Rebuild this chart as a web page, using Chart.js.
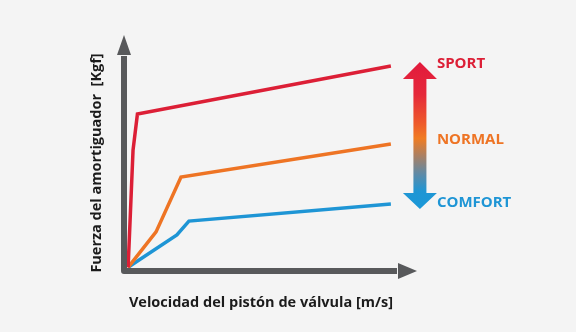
<!DOCTYPE html>
<html>
<head>
<meta charset="utf-8">
<script src="https://cdn.jsdelivr.net/npm/chart.js@4/dist/chart.umd.min.js"></script>
<style>
  html, body { margin: 0; padding: 0; background: #f4f4f4; }
  #wrap { width: 576px; height: 332px; }
</style>
</head>
<body>
<div id="wrap"><canvas id="c" width="576" height="332"></canvas></div>
<script>
// ---- data (notional units: velocity 0..10, force 0..10) ----
const seriesNames = ['SPORT', 'NORMAL', 'COMFORT'];
const sportX   = [0.15, 0.33, 0.49, 9.74];
const sportY   = [0.17, 5.60, 7.27, 9.49];
const normalX  = [0.15, 1.17, 2.08, 9.74];
const normalY  = [0.17, 1.81, 4.35, 5.88];
const comfortX = [0.15, 1.93, 2.37, 9.74];
const comfortY = [0.17, 1.67, 2.31, 3.10];
const xTitle = 'Velocidad del pistón de válvula [m/s]';
const yTitle = 'Fuerza del amortiguador  [Kgf]';

const colors = { SPORT: '#dc1f36', NORMAL: '#ee7424', COMFORT: '#1e95d5' };
const axisColor = '#58595b';
const titleFont = { family: "'Open Sans'", weight: 'bold', size: 14.5, lineHeight: 1.2 };

const toPts = (xs, ys) => xs.map((x, i) => ({ x: x, y: ys[i] }));

// annotation layout (in data units of the chart's scales)
const sideArrow = { x: 10.80, top: 9.68, headTop: 8.89, headBottom: 3.61, bottom: 2.87 };
const labelAnchors = { x: 11.42, SPORT: 9.58, NORMAL: 6.06, COMFORT: 3.17 };

const decor = {
  id: 'decor',
  beforeDraw(chart) {
    const ctx = chart.ctx;
    ctx.save();
    ctx.fillStyle = '#f4f4f4';
    ctx.fillRect(0, 0, chart.width, chart.height);
    ctx.restore();
  },
  afterDatasetsDraw(chart) {
    const ctx = chart.ctx;
    const xs = chart.scales.x, ys = chart.scales.y;
    const ox = xs.getPixelForValue(0), oy = ys.getPixelForValue(0);
    const xEnd = xs.getPixelForValue(10), yEnd = ys.getPixelForValue(10);
    ctx.save();
    // axes
    ctx.strokeStyle = axisColor;
    ctx.lineWidth = 6;
    ctx.lineJoin = 'round';
    ctx.beginPath();
    ctx.moveTo(ox, yEnd + 1);
    ctx.lineTo(ox, oy);
    ctx.lineTo(xEnd - 1, oy);
    ctx.stroke();
    ctx.fillStyle = axisColor;
    // y arrow head
    ctx.beginPath();
    ctx.moveTo(ox, yEnd - 20);
    ctx.lineTo(ox + 7, yEnd);
    ctx.lineTo(ox - 7, yEnd);
    ctx.closePath();
    ctx.fill();
    // x arrow head
    ctx.beginPath();
    ctx.moveTo(xEnd + 19, oy);
    ctx.lineTo(xEnd, oy - 8);
    ctx.lineTo(xEnd, oy + 8);
    ctx.closePath();
    ctx.fill();

    // side gradient double arrow
    const ax = xs.getPixelForValue(sideArrow.x);
    const t = ys.getPixelForValue(sideArrow.top);
    const ht = ys.getPixelForValue(sideArrow.headTop);
    const hb = ys.getPixelForValue(sideArrow.headBottom);
    const b = ys.getPixelForValue(sideArrow.bottom);
    const g = ctx.createLinearGradient(0, t, 0, b);
    g.addColorStop(0, '#e21a3c');
    g.addColorStop(0.22, '#e5283a');
    g.addColorStop(0.42, '#ee5a2a');
    g.addColorStop(0.52, '#f07c22');
    g.addColorStop(0.64, '#a98064');
    g.addColorStop(0.76, '#5f8aa6');
    g.addColorStop(0.88, '#1f96d4');
    g.addColorStop(1, '#1a98d8');
    ctx.fillStyle = g;
    const hw = 17, sw = 6.5;
    ctx.beginPath();
    ctx.moveTo(ax, t);
    ctx.lineTo(ax + hw, ht);
    ctx.lineTo(ax + sw, ht);
    ctx.lineTo(ax + sw, hb);
    ctx.lineTo(ax + hw, hb);
    ctx.lineTo(ax, b);
    ctx.lineTo(ax - hw, hb);
    ctx.lineTo(ax - sw, hb);
    ctx.lineTo(ax - sw, ht);
    ctx.lineTo(ax - hw, ht);
    ctx.closePath();
    ctx.fill();

    // labels
    ctx.font = "bold 15px 'Open Sans'";
    ctx.textBaseline = 'middle';
    ctx.textAlign = 'left';
    const lx = xs.getPixelForValue(labelAnchors.x);
    seriesNames.forEach(n => {
      ctx.fillStyle = colors[n];
      ctx.fillText(n, lx, ys.getPixelForValue(labelAnchors[n]));
    });
    ctx.restore();
  }
};

new Chart(document.getElementById('c'), {
  type: 'line',
  data: {
    datasets: [
      { label: 'SPORT', data: toPts(sportX, sportY), borderColor: colors.SPORT },
      { label: 'NORMAL', data: toPts(normalX, normalY), borderColor: colors.NORMAL },
      { label: 'COMFORT', data: toPts(comfortX, comfortY), borderColor: colors.COMFORT }
    ].map(d => Object.assign(d, { borderWidth: 3.5, pointRadius: 0, tension: 0, fill: false, borderJoinStyle: 'miter', borderCapStyle: 'butt' }))
  },
  options: {
    responsive: false,
    animation: false,
    events: [],
    layout: { padding: { left: 88, right: 178, top: 55, bottom: 20 } },
    plugins: { legend: { display: false }, tooltip: { enabled: false } },
    scales: {
      x: {
        type: 'linear', min: 0, max: 10,
        grid: { display: false, drawTicks: false },
        border: { display: false },
        ticks: { display: false },
        title: { display: true, text: xTitle, color: '#1b1b1b', font: titleFont, padding: 0 },
        afterFit: s => { s.height = 41; }
      },
      y: {
        type: 'linear', min: 0, max: 10,
        grid: { display: false, drawTicks: false },
        border: { display: false },
        ticks: { display: false },
        title: { display: true, text: yTitle, color: '#1b1b1b', font: titleFont, padding: 0 },
        afterFit: s => { s.width = 36; }
      }
    }
  },
  plugins: [decor]
});
</script>
</body>
</html>
